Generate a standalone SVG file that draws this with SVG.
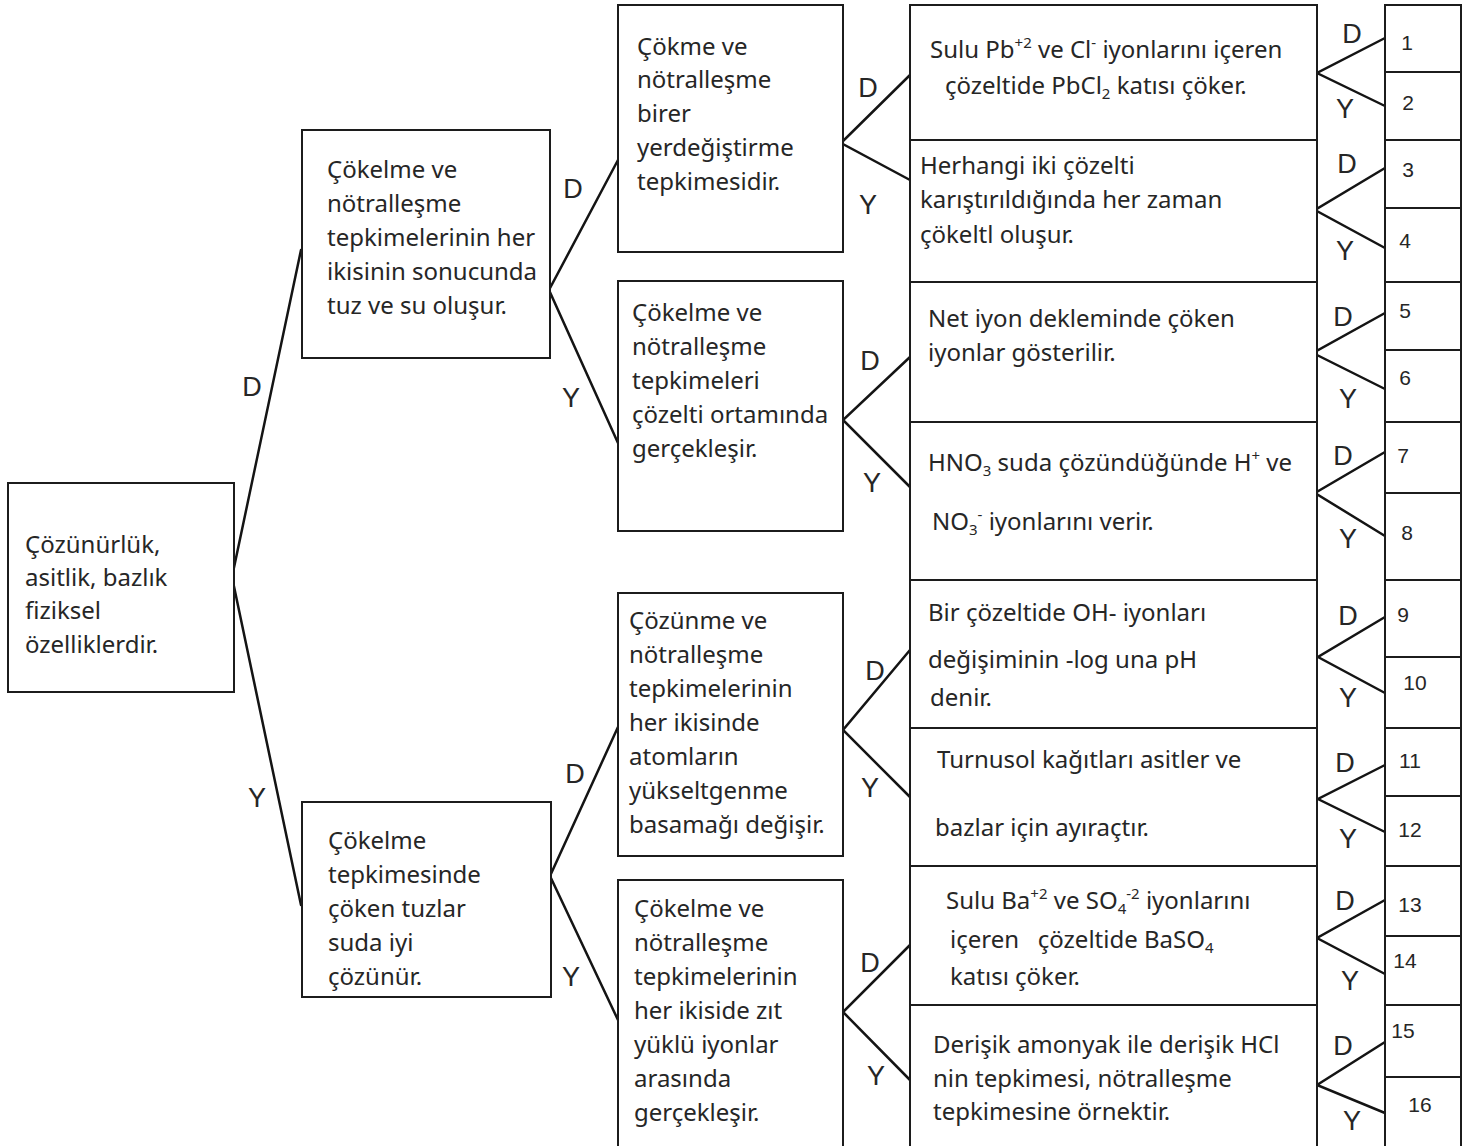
<svg xmlns="http://www.w3.org/2000/svg" width="1474" height="1146" viewBox="0 0 1474 1146">
  <style>
    .box { fill: #ffffff; stroke: #1c1c1c; stroke-width: 2; }
    .edge { stroke: #141414; stroke-width: 2.5; fill: none; stroke-linecap: round; }
    .t { font-family: "Noto Sans", "DejaVu Sans", sans-serif; font-size: 24px; fill: #262626; }
    .lbl { font-family: "Liberation Sans", Arial, sans-serif; font-size: 27px; fill: #262626; text-anchor: middle; }
    .num { font-family: "Liberation Sans", Arial, sans-serif; font-size: 21px; fill: #262626; text-anchor: middle; }
    .sup { font-size: 15px; }
  </style>
  <rect width="1474" height="1146" fill="#ffffff"/>

  <!-- decision tree branches with true/false labels -->
  <g id="connectors">
    <polyline class="edge" points="301,250 232,577 301,905"/>
    <polyline class="edge" points="618,160 549,290 618,443"/>
    <polyline class="edge" points="618,727 550,876 618,1020"/>
    <polyline class="edge" points="910,75 841,143 910,180"/>
    <polyline class="edge" points="910,357 843,420 910,487"/>
    <polyline class="edge" points="910,650 843,730 910,797"/>
    <polyline class="edge" points="910,945 843,1012 910,1080"/>

    <polyline class="edge" points="1385,38 1317,73 1385,106"/>
    <polyline class="edge" points="1385,168 1315,210 1385,248"/>
    <polyline class="edge" points="1385,313 1313,353 1385,389"/>
    <polyline class="edge" points="1385,452 1315,493 1385,536"/>
    <polyline class="edge" points="1385,617 1318,657 1385,693"/>
    <polyline class="edge" points="1385,765 1318,799 1385,832"/>
    <polyline class="edge" points="1385,900 1317,938 1385,974"/>
    <polyline class="edge" points="1385,1042 1317,1085 1385,1113"/>

    <text class="lbl" x="252" y="396">D</text>
    <text class="lbl" x="257" y="807">Y</text>
    <text class="lbl" x="573" y="198">D</text>
    <text class="lbl" x="571" y="407">Y</text>
    <text class="lbl" x="575" y="783">D</text>
    <text class="lbl" x="571" y="986">Y</text>
    <text class="lbl" x="868" y="97">D</text>
    <text class="lbl" x="868" y="214">Y</text>
    <text class="lbl" x="870" y="370">D</text>
    <text class="lbl" x="872" y="492">Y</text>
    <text class="lbl" x="875" y="680">D</text>
    <text class="lbl" x="870" y="797">Y</text>
    <text class="lbl" x="870" y="972">D</text>
    <text class="lbl" x="876" y="1085">Y</text>

    <text class="lbl" x="1352" y="43">D</text>
    <text class="lbl" x="1345" y="118">Y</text>
    <text class="lbl" x="1347" y="173">D</text>
    <text class="lbl" x="1345" y="260">Y</text>
    <text class="lbl" x="1343" y="326">D</text>
    <text class="lbl" x="1348" y="408">Y</text>
    <text class="lbl" x="1343" y="465">D</text>
    <text class="lbl" x="1348" y="548">Y</text>
    <text class="lbl" x="1348" y="625">D</text>
    <text class="lbl" x="1348" y="707">Y</text>
    <text class="lbl" x="1345" y="772">D</text>
    <text class="lbl" x="1348" y="848">Y</text>
    <text class="lbl" x="1345" y="910">D</text>
    <text class="lbl" x="1350" y="990">Y</text>
    <text class="lbl" x="1343" y="1055">D</text>
    <text class="lbl" x="1352" y="1130">Y</text>
  </g>

  <!-- level 0 -->
  <g id="root">
    <rect class="box" x="8" y="483" width="226" height="209"/>
    <text class="t" x="25" y="553">Çözünürlük,</text>
    <text class="t" x="25" y="586">asitlik, bazlık</text>
    <text class="t" x="25" y="619">fiziksel</text>
    <text class="t" x="25" y="653">özelliklerdir.</text>
  </g>

  <!-- level 1 -->
  <g id="node-a">
    <rect class="box" x="302" y="130" width="248" height="228"/>
    <text class="t" x="327" y="178">Çökelme ve</text>
    <text class="t" x="327" y="212">nötralleşme</text>
    <text class="t" x="327" y="246">tepkimelerinin her</text>
    <text class="t" x="327" y="280">ikisinin sonucunda</text>
    <text class="t" x="327" y="314">tuz ve su oluşur.</text>
  </g>
  <g id="node-b">
    <rect class="box" x="302" y="802" width="249" height="195"/>
    <text class="t" x="328" y="849">Çökelme</text>
    <text class="t" x="328" y="883">tepkimesinde</text>
    <text class="t" x="328" y="917">çöken tuzlar</text>
    <text class="t" x="328" y="951">suda iyi</text>
    <text class="t" x="328" y="985">çözünür.</text>
  </g>

  <!-- level 2 -->
  <g id="node-a1">
    <rect class="box" x="618" y="5" width="225" height="247"/>
    <text class="t" x="637" y="55">Çökme ve</text>
    <text class="t" x="637" y="88">nötralleşme</text>
    <text class="t" x="637" y="122">birer</text>
    <text class="t" x="637" y="156">yerdeğiştirme</text>
    <text class="t" x="637" y="190">tepkimesidir.</text>
  </g>
  <g id="node-a2">
    <rect class="box" x="618" y="281" width="225" height="250"/>
    <text class="t" x="632" y="321">Çökelme ve</text>
    <text class="t" x="632" y="355">nötralleşme</text>
    <text class="t" x="632" y="389">tepkimeleri</text>
    <text class="t" x="632" y="423">çözelti ortamında</text>
    <text class="t" x="632" y="457">gerçekleşir.</text>
  </g>
  <g id="node-b1">
    <rect class="box" x="618" y="593" width="225" height="263"/>
    <text class="t" x="629" y="629">Çözünme ve</text>
    <text class="t" x="629" y="663">nötralleşme</text>
    <text class="t" x="629" y="697">tepkimelerinin</text>
    <text class="t" x="629" y="731">her ikisinde</text>
    <text class="t" x="629" y="765">atomların</text>
    <text class="t" x="629" y="799">yükseltgenme</text>
    <text class="t" x="629" y="833">basamağı değişir.</text>
  </g>
  <g id="node-b2">
    <rect class="box" x="618" y="880" width="225" height="280"/>
    <text class="t" x="634" y="917">Çökelme ve</text>
    <text class="t" x="634" y="951">nötralleşme</text>
    <text class="t" x="634" y="985">tepkimelerinin</text>
    <text class="t" x="634" y="1019">her ikiside zıt</text>
    <text class="t" x="634" y="1053">yüklü iyonlar</text>
    <text class="t" x="634" y="1087">arasında</text>
    <text class="t" x="634" y="1121">gerçekleşir.</text>
  </g>

  <!-- level 3: statements -->
  <g id="s1">
    <rect class="box" x="910" y="5" width="407" height="135"/>
    <text class="t" x="930" y="58">Sulu Pb<tspan class="sup" dy="-10">+2</tspan><tspan dy="10"> ve Cl</tspan><tspan class="sup" dy="-10">-</tspan><tspan dy="10"> iyonlarını içeren</tspan></text>
    <text class="t" x="945" y="94">çözeltide PbCl<tspan class="sup" dy="5">2</tspan><tspan dy="-5"> katısı çöker.</tspan></text>
  </g>
  <g id="s2">
    <rect class="box" x="910" y="140" width="407" height="142"/>
    <text class="t" x="920" y="174">Herhangi iki çözelti</text>
    <text class="t" x="920" y="208">karıştırıldığında her zaman</text>
    <text class="t" x="920" y="243">çökeltl oluşur.</text>
  </g>
  <g id="s3">
    <rect class="box" x="910" y="282" width="407" height="140"/>
    <text class="t" x="928" y="327">Net iyon dekleminde çöken</text>
    <text class="t" x="928" y="361">iyonlar gösterilir.</text>
  </g>
  <g id="s4">
    <rect class="box" x="910" y="422" width="407" height="158"/>
    <text class="t" x="928" y="471">HNO<tspan class="sup" dy="5">3</tspan><tspan dy="-5"> suda çözündüğünde H</tspan><tspan class="sup" dy="-10">+</tspan><tspan dy="10"> ve</tspan></text>
    <text class="t" x="932" y="530">NO<tspan class="sup" dy="5">3</tspan><tspan class="sup" dy="-15">-</tspan><tspan dy="10"> iyonlarını verir.</tspan></text>
  </g>
  <g id="s5">
    <rect class="box" x="910" y="580" width="407" height="148"/>
    <text class="t" x="928" y="621">Bir çözeltide OH- iyonları</text>
    <text class="t" x="928" y="668">değişiminin -log una pH</text>
    <text class="t" x="930" y="706">denir.</text>
  </g>
  <g id="s6">
    <rect class="box" x="910" y="728" width="407" height="138"/>
    <text class="t" x="937" y="768">Turnusol kağıtları asitler ve</text>
    <text class="t" x="935" y="836">bazlar için ayıraçtır.</text>
  </g>
  <g id="s7">
    <rect class="box" x="910" y="866" width="407" height="139"/>
    <text class="t" x="946" y="909">Sulu Ba<tspan class="sup" dy="-10">+2</tspan><tspan dy="10"> ve SO</tspan><tspan class="sup" dy="5">4</tspan><tspan class="sup" dy="-15">-2</tspan><tspan dy="10"> iyonlarını</tspan></text>
    <text class="t" x="950" y="948" xml:space="preserve">içeren   çözeltide BaSO<tspan class="sup" dy="5">4</tspan></text>
    <text class="t" x="950" y="985">katısı çöker.</text>
  </g>
  <g id="s8">
    <rect class="box" x="910" y="1005" width="407" height="155"/>
    <text class="t" x="933" y="1053">Derişik amonyak ile derişik HCl</text>
    <text class="t" x="933" y="1087">nin tepkimesi, nötralleşme</text>
    <text class="t" x="933" y="1120">tepkimesine örnektir.</text>
  </g>

  <!-- answer cells -->
  <g id="n1"><rect class="box" x="1385" y="5" width="76" height="67"/><text class="num" x="1407" y="50">1</text></g>
  <g id="n2"><rect class="box" x="1385" y="72" width="76" height="68"/><text class="num" x="1408" y="110">2</text></g>
  <g id="n3"><rect class="box" x="1385" y="140" width="76" height="68"/><text class="num" x="1408" y="177">3</text></g>
  <g id="n4"><rect class="box" x="1385" y="208" width="76" height="74"/><text class="num" x="1405" y="248">4</text></g>
  <g id="n5"><rect class="box" x="1385" y="282" width="76" height="68"/><text class="num" x="1405" y="318">5</text></g>
  <g id="n6"><rect class="box" x="1385" y="350" width="76" height="72"/><text class="num" x="1405" y="385">6</text></g>
  <g id="n7"><rect class="box" x="1385" y="422" width="76" height="71"/><text class="num" x="1403" y="463">7</text></g>
  <g id="n8"><rect class="box" x="1385" y="493" width="76" height="87"/><text class="num" x="1407" y="540">8</text></g>
  <g id="n9"><rect class="box" x="1385" y="580" width="76" height="77"/><text class="num" x="1403" y="622">9</text></g>
  <g id="n10"><rect class="box" x="1385" y="657" width="76" height="71"/><text class="num" x="1415" y="690">10</text></g>
  <g id="n11"><rect class="box" x="1385" y="728" width="76" height="68"/><text class="num" x="1410" y="768">11</text></g>
  <g id="n12"><rect class="box" x="1385" y="796" width="76" height="70"/><text class="num" x="1410" y="837">12</text></g>
  <g id="n13"><rect class="box" x="1385" y="866" width="76" height="70"/><text class="num" x="1410" y="912">13</text></g>
  <g id="n14"><rect class="box" x="1385" y="936" width="76" height="69"/><text class="num" x="1405" y="968">14</text></g>
  <g id="n15"><rect class="box" x="1385" y="1005" width="76" height="72"/><text class="num" x="1403" y="1038">15</text></g>
  <g id="n16"><rect class="box" x="1385" y="1077" width="76" height="83"/><text class="num" x="1420" y="1112">16</text></g>
</svg>
